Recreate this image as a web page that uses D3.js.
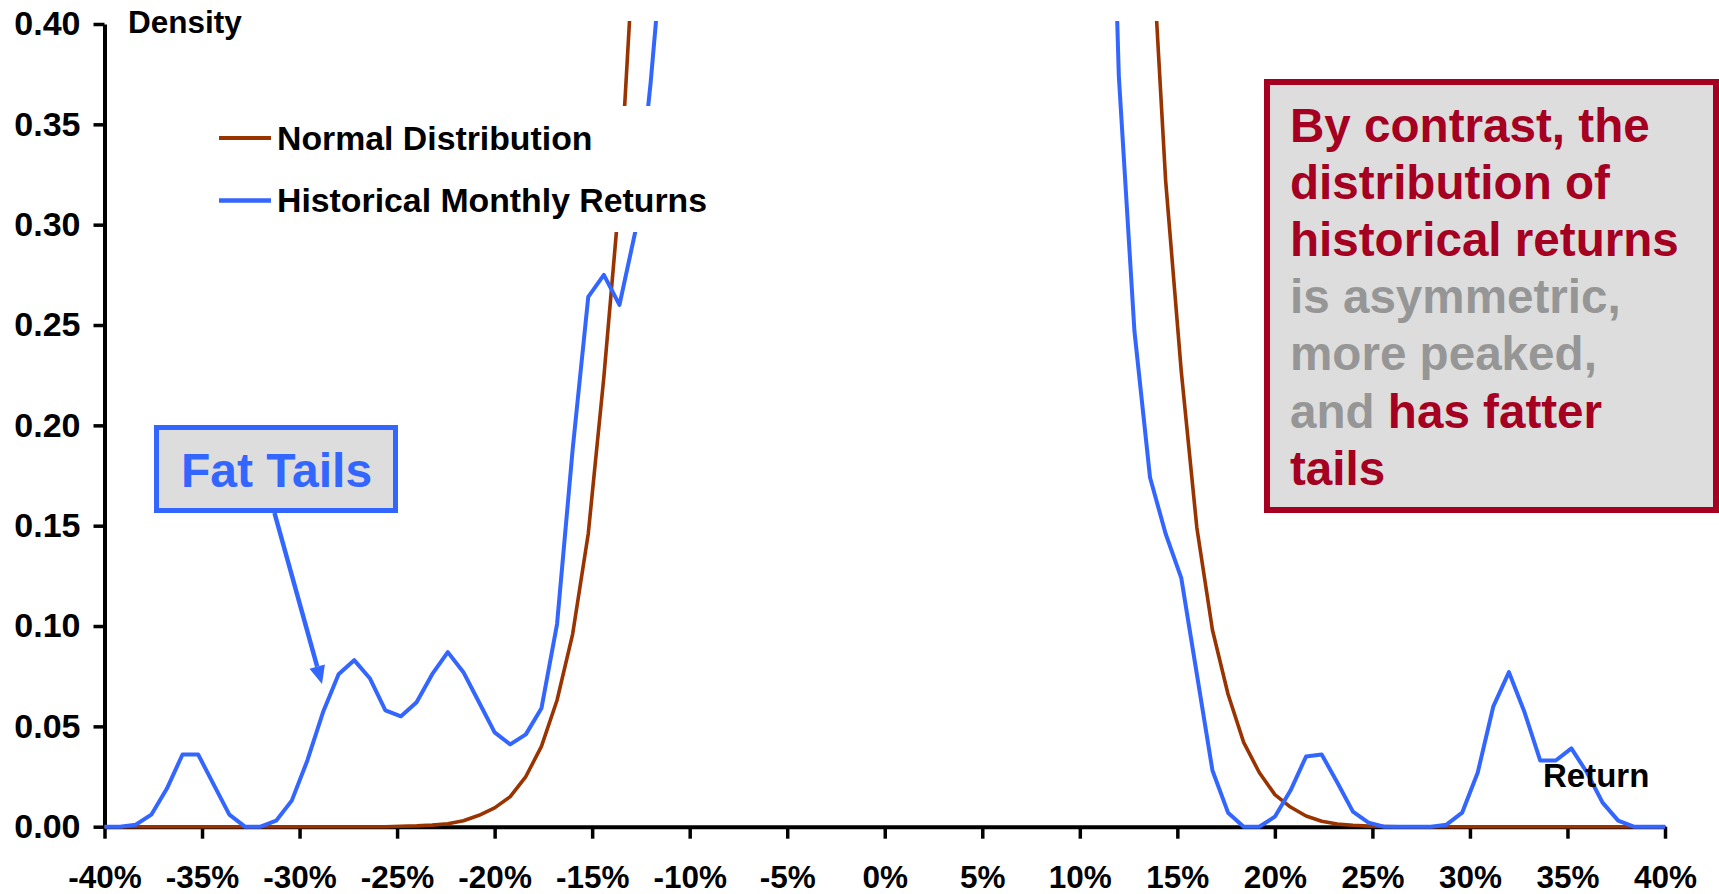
<!DOCTYPE html>
<html>
<head>
<meta charset="utf-8">
<script src="https://cdn.jsdelivr.net/npm/d3@7/dist/d3.min.js"></script>
<style>
  body { margin: 0; background: #fff; }
  svg text { font-family: Arial, "Liberation Sans", sans-serif; font-weight: bold; }
</style>
</head>
<body>
<div id="chart"></div>
<script>
// return buckets (%), 0.8% apart
const returns = [
  -40, -39.2, -38.4, -37.6, -36.8, -36, -35.2, -34.4, -33.6, -32.8,
  -32, -31.2, -30.4, -29.6, -28.8, -28, -27.2, -26.4, -25.6, -24.8,
  -24, -23.2, -22.4, -21.6, -20.8, -20, -19.2, -18.4, -17.6, -16.8,
  -16, -15.2, -14.4, -13.6, -12.8, -12, -11.2, -10.4, -9.6, -8.8,
  -8, -7.2, -6.4, -5.6, -4.8, -4, -3.2, -2.4, -1.6, -0.8,
  0, 0.8, 1.6, 2.4, 3.2, 4, 4.8, 5.6, 6.4, 7.2,
  8, 8.8, 9.6, 10.4, 11.2, 12, 12.8, 13.6, 14.4, 15.2,
  16, 16.8, 17.6, 18.4, 19.2, 20, 20.8, 21.6, 22.4, 23.2,
  24, 24.8, 25.6, 26.4, 27.2, 28, 28.8, 29.6, 30.4, 31.2,
  32, 32.8, 33.6, 34.4, 35.2, 36, 36.8, 37.6, 38.4, 39.2,
  40
];

// values above 0.40 are cut off by the plot area
const normalDensity = [
  0, 0, 0, 0, 0, 0, 0, 0, 0, 0,
  0, 0, 0, 0, 0, 0, 0, 0, 0, 0.0002,
  0.0004, 0.0008, 0.0015, 0.003, 0.0057, 0.0094, 0.015, 0.025, 0.040, 0.063,
  0.096, 0.146, 0.224, 0.314, 0.45, 0.64, 0.87, 1.17, 1.53, 1.97,
  2.49, 3.07, 3.71, 4.39, 5.08, 5.77, 6.40, 6.97, 7.42, 7.73,
  7.90, 7.90, 7.73, 7.42, 6.97, 6.40, 5.77, 5.08, 4.39, 3.71,
  3.07, 2.49, 1.97, 1.53, 1.17, 0.87, 0.64, 0.46, 0.322, 0.227,
  0.149, 0.098, 0.066, 0.042, 0.027, 0.016, 0.0098, 0.0053, 0.0027, 0.0013,
  0.0007, 0.0003, 0.0001, 0, 0, 0, 0, 0, 0, 0,
  0, 0, 0, 0, 0, 0, 0, 0, 0, 0,
  0
];

const historicalDensity = [
  0, 0, 0.001, 0.006, 0.019, 0.036, 0.036, 0.021, 0.006, 0,
  0, 0.003, 0.013, 0.033, 0.057, 0.076, 0.083, 0.074, 0.058, 0.055,
  0.062, 0.076, 0.087, 0.077, 0.062, 0.047, 0.041, 0.046, 0.059, 0.101,
  0.188, 0.264, 0.275, 0.260, 0.296, 0.371, 0.46, 0.62, 0.85, 1.1,
  1.4, 1.8, 2.2, 2.7, 3.2, 3.8, 4.4, 5.0, 5.6, 6.3,
  7.0, 7.8, 8.5, 9.1, 9.4, 9.2, 8.6, 7.6, 6.4, 5.0,
  3.7, 2.5, 1.6, 1.0, 0.64, 0.374, 0.247, 0.174, 0.146, 0.124,
  0.076, 0.028, 0.007, 0, 0, 0.005, 0.018, 0.035, 0.036, 0.022,
  0.0075, 0.002, 0, 0, 0, 0, 0.001, 0.007, 0.027, 0.060,
  0.077, 0.057, 0.033, 0.033, 0.039, 0.027, 0.012, 0.003, 0, 0,
  0
];

const xTicks = [-40, -35, -30, -25, -20, -15, -10, -5, 0, 5, 10, 15, 20, 25, 30, 35, 40];
const yTicks = [0, 0.05, 0.10, 0.15, 0.20, 0.25, 0.30, 0.35, 0.40];

const seriesNames = ['Normal Distribution', 'Historical Monthly Returns'];
const seriesColors = ['#993300', '#3366ff'];

const noteLines = [
  [{t: 'By contrast, the', c: 'red'}],
  [{t: 'distribution of', c: 'red'}],
  [{t: 'historical returns', c: 'red'}],
  [{t: 'is asymmetric,', c: 'grey'}],
  [{t: 'more peaked,', c: 'grey'}],
  [{t: 'and ', c: 'grey'}, {t: 'has fatter', c: 'red'}],
  [{t: 'tails', c: 'red'}]
];

const width = 1719, height = 894;
const margin = {top: 24, right: 54, bottom: 67.3, left: 104.5};

const x = d3.scaleLinear().domain([-40, 40]).range([margin.left, width - margin.right]);
const y = d3.scaleLinear().domain([0, 0.4]).range([height - margin.bottom, margin.top]);

const svg = d3.select('#chart').append('svg')
    .attr('width', width)
    .attr('height', height);

svg.append('defs').append('clipPath')
    .attr('id', 'plot-clip')
  .append('rect')
    .attr('x', 0)
    .attr('y', margin.top - 3)
    .attr('width', width)
    .attr('height', height);

// axes
const xAxis = svg.append('g')
    .attr('transform', `translate(0,${y(0)})`)
    .call(d3.axisBottom(x)
        .tickValues(xTicks)
        .tickSize(12)
        .tickSizeOuter(0)
        .tickFormat(d => d + '%'));
xAxis.select('.domain').attr('stroke-width', 4);
xAxis.selectAll('.tick line').attr('stroke-width', 3.5);
xAxis.selectAll('.tick text')
    .attr('y', 39)
    .attr('dy', '0.71em')
    .attr('font-size', 31.5)
    .attr('fill', '#000');

const yAxis = svg.append('g')
    .attr('transform', `translate(${x(-40)},0)`)
    .call(d3.axisLeft(y)
        .tickValues(yTicks)
        .tickSize(11)
        .tickSizeOuter(0)
        .tickPadding(13)
        .tickFormat(d3.format('.2f')));
yAxis.select('.domain').attr('stroke-width', 4);
yAxis.selectAll('.tick line').attr('stroke-width', 3.5);
yAxis.selectAll('.tick text')
    .attr('font-size', 34)
    .attr('fill', '#000');

// series
const line = d3.line()
    .x((d, i) => x(returns[i]))
    .y(d => y(d));

const lines = svg.append('g').attr('clip-path', 'url(#plot-clip)');
[normalDensity, historicalDensity].forEach((values, k) => {
    lines.append('path')
        .datum(values)
        .attr('d', line)
        .attr('fill', 'none')
        .attr('stroke', seriesColors[k])
        .attr('stroke-width', k === 0 ? 3.6 : 4)
        .attr('stroke-linejoin', 'round');
});

// legend (white box hides the lines behind it)
const legend = svg.append('g');
legend.append('rect')
    .attr('x', 200).attr('y', 106)
    .attr('width', 520).attr('height', 126)
    .attr('fill', '#fff');
seriesNames.forEach((name, k) => {
    const ly = 138 + k * 62.6;
    legend.append('line')
        .attr('x1', 219).attr('x2', 271)
        .attr('y1', ly).attr('y2', ly)
        .attr('stroke', seriesColors[k])
        .attr('stroke-width', k === 0 ? 3.8 : 4.5);
    legend.append('text')
        .attr('x', 277).attr('y', ly)
        .attr('dy', '0.35em')
        .attr('font-size', 33.8)
        .text(name);
});

// axis titles
svg.append('text')
    .attr('x', 128).attr('y', 33)
    .attr('font-size', 31.5)
    .text('Density');
svg.append('text')
    .attr('x', 1543).attr('y', 787)
    .attr('font-size', 33)
    .text('Return');

// "Fat Tails" call-out with arrow
svg.append('rect')
    .attr('x', 156.5).attr('y', 427.5)
    .attr('width', 239).attr('height', 83)
    .attr('fill', '#dddddd')
    .attr('stroke', '#3366ff')
    .attr('stroke-width', 5);
svg.append('text')
    .attr('x', 276.5).attr('y', 487)
    .attr('text-anchor', 'middle')
    .attr('font-size', 48)
    .attr('fill', '#3366ff')
    .text('Fat Tails');

const a0 = [274.5, 513], a1 = [322, 684];
const len = Math.hypot(a1[0] - a0[0], a1[1] - a0[1]);
const ux = (a1[0] - a0[0]) / len, uy = (a1[1] - a0[1]) / len;
const headL = 18, headW = 8;
const bx = a1[0] - ux * headL, by = a1[1] - uy * headL;
svg.append('line')
    .attr('x1', a0[0]).attr('y1', a0[1])
    .attr('x2', bx).attr('y2', by)
    .attr('stroke', '#3366ff')
    .attr('stroke-width', 4.5);
svg.append('polygon')
    .attr('points', [
        a1,
        [bx - uy * headW, by + ux * headW],
        [bx + uy * headW, by - ux * headW]
    ].map(p => p.join(',')).join(' '))
    .attr('fill', '#3366ff');

// note box on the right
svg.append('rect')
    .attr('x', 1267).attr('y', 82)
    .attr('width', 449).attr('height', 428)
    .attr('fill', '#dddddd')
    .attr('stroke', '#a50021')
    .attr('stroke-width', 6);
const note = svg.append('text')
    .attr('font-size', 47.6);
noteLines.forEach((parts, i) => {
    parts.forEach((p, j) => {
        const span = note.append('tspan')
            .attr('fill', p.c === 'red' ? '#a50021' : '#969696')
            .text(p.t);
        if (j === 0) span.attr('x', 1290).attr('y', 141.5 + i * 57.2);
    });
});
</script>
</body>
</html>
